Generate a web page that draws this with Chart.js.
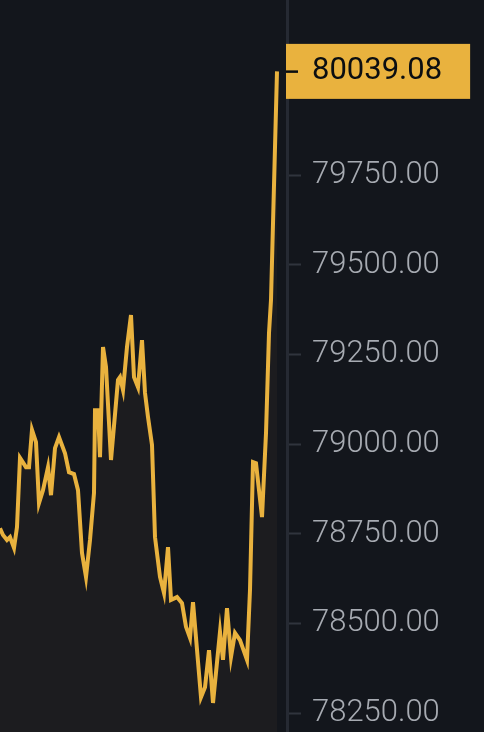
<!DOCTYPE html>
<html><head><meta charset="utf-8">
<script src="https://cdn.jsdelivr.net/npm/chart.js@4.4.1/dist/chart.umd.min.js"></script>
<style>html,body{margin:0;padding:0;background:#13161c;overflow:hidden}#wrap{width:484px;height:732px;position:relative}</style>
</head><body><div id="wrap"><canvas id="c"></canvas></div>
<script>
// time in seconds from start of window
const times = [0,60,140,200,280,340,400,520,580,640,
720,780,860,960,1020,1100,1180,1300,1380,1480,
1560,1640,1720,1800,1880,1900,1960,2000,2060,2120,
2220,2360,2400,2460,2540,2620,2680,2760,2840,2900,
2960,3040,3100,3200,3280,3360,3420,3540,3640,3720,
3800,3860,4020,4100,4180,4260,4400,4460,4540,4620,
4700,4800,4940,5000,5060,5120,5240,5320,5380,5420,
5480,5540];
const prices = [78766,78747,78733,78741,78711,78769,78962,78936,78936,79040,
79006,78836,78872,78936,78858,78989,79020,78975,78922,78917,
78872,78697,78630,78733,78864,79095,79095,78964,79271,79215,
78956,79179,79187,79151,79271,79360,79187,79159,79290,79143,
79076,78998,78741,78630,78585,78713,78566,78574,78557,78491,
78460,78560,78295,78323,78426,78279,78477,78399,78543,78407,
78474,78454,78399,78594,78950,78947,78797,79031,79310,79402,
79722,80039.08];
const tickValues = [78250,78500,78750,79000,79250,79500,79750];
const lastPrice = 80039.08;
const yMin = 78198, yMax = 80238;
const xMax = 5740;

const LINE = '#e9b23e';
const TAG_FONT = '400 31px Roboto';

const priceTag = {
  id: 'priceTag',
  afterDraw(chart) {
    const ys = chart.scales.y, ctx = chart.ctx;
    const py = ys.getPixelForValue(lastPrice);
    const label = lastPrice.toFixed(2);
    ctx.save();
    ctx.font = TAG_FONT;
    const tx = ys.left + 14 + 11;
    const tw = ctx.measureText(label).width;
    const bx = ys.left - 1;
    const bw = Math.max(tx + tw + 28 - bx, 183);
    ctx.fillStyle = LINE;
    ctx.fillRect(bx, py - 27.5, bw, 55);
    ctx.fillStyle = '#0b0e11';
    ctx.fillRect(bx, py - 1, 12, 2.5);
    ctx.textBaseline = 'middle';
    ctx.textAlign = 'left';
    ctx.fillText(label, tx, py);
    ctx.restore();
  }
};

new Chart(document.getElementById('c'), {
  type: 'line',
  data: {
    datasets: [{
      data: times.map((t, i) => ({x: t, y: prices[i]})),
      borderColor: LINE,
      borderWidth: 4,
      pointRadius: 0,
      tension: 0,
      fill: {target: 'start'},
      backgroundColor: '#1c1c1f'
    }]
  },
  options: {
    responsive: true, maintainAspectRatio: false, animation: false,
    layout: {padding: 0},
    plugins: {legend: {display: false}, tooltip: {enabled: false}},
    scales: {
      x: {type: 'linear', display: false, min: 0, max: xMax},
      y: {
        position: 'right', min: yMin, max: yMax,
        afterBuildTicks(s) { s.ticks = tickValues.map(v => ({value: v})); },
        afterFit(s) { s.width = 197; s.paddingTop = 0; s.paddingBottom = 0; },
        grid: {drawOnChartArea: false, drawTicks: true, tickLength: 14, tickWidth: 2, tickColor: '#30343d'},
        border: {display: true, color: '#262a33', width: 3},
        ticks: {color: '#a7abb2', padding: 11, font: {family: 'Roboto', size: 31, weight: 300}, callback: v => Number(v).toFixed(2)}
      }
    }
  },
  plugins: [priceTag]
});
</script></body></html>
